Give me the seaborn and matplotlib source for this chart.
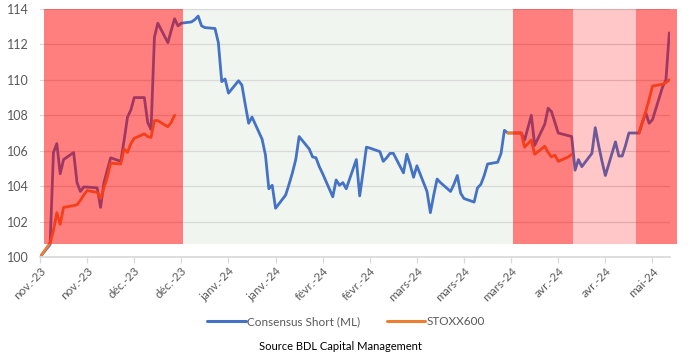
import numpy as np
import pandas as pd
import seaborn as sns
import matplotlib.pyplot as plt

sns.set_theme(style='white')
plt.rcParams['font.family'] = ['Lato', 'DejaVu Sans']

# ============================================================
# Données
# ============================================================
blue_dates = ['2023-11-10', '2023-11-13', '2023-11-14', '2023-11-15', '2023-11-16', '2023-11-17',
              '2023-11-20', '2023-11-21', '2023-11-22', '2023-11-23', '2023-11-24', '2023-11-27',
              '2023-11-28', '2023-11-29', '2023-11-30', '2023-12-01', '2023-12-04', '2023-12-05',
              '2023-12-06', '2023-12-07', '2023-12-08', '2023-12-11', '2023-12-12', '2023-12-13',
              '2023-12-14', '2023-12-15', '2023-12-18', '2023-12-19', '2023-12-20', '2023-12-21',
              '2023-12-22', '2023-12-25', '2023-12-26', '2023-12-27', '2023-12-28', '2023-12-29',
              '2024-01-01', '2024-01-02', '2024-01-03', '2024-01-04', '2024-01-05', '2024-01-08',
              '2024-01-09', '2024-01-10', '2024-01-11', '2024-01-12', '2024-01-15', '2024-01-16',
              '2024-01-17', '2024-01-18', '2024-01-19', '2024-01-22', '2024-01-23', '2024-01-24',
              '2024-01-25', '2024-01-26', '2024-01-29', '2024-01-30', '2024-01-31', '2024-02-01',
              '2024-02-02', '2024-02-05', '2024-02-06', '2024-02-07', '2024-02-08', '2024-02-09',
              '2024-02-12', '2024-02-13', '2024-02-14', '2024-02-15', '2024-02-16', '2024-02-19',
              '2024-02-20', '2024-02-21', '2024-02-22', '2024-02-23', '2024-02-26', '2024-02-27',
              '2024-02-28', '2024-02-29', '2024-03-01', '2024-03-04', '2024-03-05', '2024-03-06',
              '2024-03-07', '2024-03-08', '2024-03-11', '2024-03-12', '2024-03-13', '2024-03-14',
              '2024-03-15', '2024-03-18', '2024-03-19', '2024-03-20', '2024-03-21', '2024-03-22',
              '2024-03-25', '2024-03-26', '2024-03-27', '2024-03-28', '2024-03-29', '2024-04-01',
              '2024-04-02', '2024-04-03', '2024-04-04', '2024-04-05', '2024-04-08', '2024-04-09',
              '2024-04-10', '2024-04-11', '2024-04-12', '2024-04-15', '2024-04-16', '2024-04-17',
              '2024-04-18', '2024-04-19', '2024-04-22', '2024-04-23', '2024-04-24', '2024-04-25',
              '2024-04-26', '2024-04-29', '2024-04-30', '2024-05-01', '2024-05-02', '2024-05-03',
              '2024-05-06', '2024-05-07', '2024-05-08', '2024-05-09', '2024-05-10', '2024-05-13',
              '2024-05-14', '2024-05-15']
blue_vals = [100.0, 100.7, 105.9, 106.4, 104.7, 105.5,
             105.9, 104.2, 103.7, 103.95, 103.95, 103.9,
             102.8, 104.2, 104.9, 105.6, 105.4, 106.6,
             107.9, 108.3, 109.0, 109.0, 107.6, 107.2,
             112.4, 113.2, 112.1, 112.8, 113.45, 113.05,
             113.2, 113.27, 113.4, 113.6, 113.05, 112.95,
             112.9, 112.1, 109.9, 110.05, 109.25, 109.95,
             109.7, 108.6, 107.55, 107.9, 106.65, 105.75,
             103.85, 104.05, 102.75, 103.5, 104.1, 104.75,
             105.5, 106.8, 106.1, 105.65, 105.6, 105.1,
             104.7, 103.4, 104.35, 104.05, 104.2, 103.85,
             105.5, 103.45, 104.8, 106.2, 106.15, 105.95,
             105.4, 105.6, 105.85, 105.85, 104.75, 105.8,
             105.2, 104.5, 105.15, 103.7, 102.5, 103.5,
             104.4, 104.2, 103.7, 104.1, 104.6, 103.6,
             103.3, 103.1, 103.9, 104.1, 104.6, 105.25,
             105.35, 105.85, 107.15, 107.0, 107.0, 107.0,
             106.6, 107.3, 108.0, 106.3, 107.5, 108.4,
             108.2, 107.6, 107.0, 106.85, 106.8, 104.9,
             105.5, 105.1, 105.85, 107.3, 106.3, 105.4,
             104.6, 106.5, 105.7, 105.7, 106.3, 107.0,
             107.0, 107.6, 108.15, 107.55, 107.75, 109.6,
             110.0, 112.65]

stoxx_dates_1 = ['2023-11-10', '2023-11-13', '2023-11-14', '2023-11-15', '2023-11-16', '2023-11-17',
                 '2023-11-20', '2023-11-21', '2023-11-22', '2023-11-23', '2023-11-24', '2023-11-27',
                 '2023-11-28', '2023-11-29', '2023-11-30', '2023-12-01', '2023-12-04', '2023-12-05',
                 '2023-12-06', '2023-12-07', '2023-12-08', '2023-12-11', '2023-12-12', '2023-12-13',
                 '2023-12-14', '2023-12-15', '2023-12-18', '2023-12-19', '2023-12-20']
stoxx_vals_1 = [100.0, 100.8, 101.5, 102.5, 101.85, 102.8,
                102.9, 102.95, 103.2, 103.5, 103.75, 103.65,
                103.3, 103.9, 104.5, 105.3, 105.25, 106.1,
                105.9, 106.4, 106.7, 106.95, 106.8, 106.75,
                107.7, 107.7, 107.35, 107.6, 108.0]
stoxx_dates_2 = ['2024-03-28', '2024-03-29', '2024-04-01', '2024-04-02', '2024-04-03', '2024-04-04',
                 '2024-04-05', '2024-04-08', '2024-04-09', '2024-04-10', '2024-04-11', '2024-04-12',
                 '2024-04-15', '2024-04-16']
stoxx_vals_2 = [107.0, 107.0, 107.0, 106.2, 106.4, 106.6,
                105.8, 106.25, 105.9, 105.65, 105.75, 105.4,
                105.65, 105.8]
stoxx_dates_3 = ['2024-05-06', '2024-05-07', '2024-05-08', '2024-05-09', '2024-05-10', '2024-05-13',
                 '2024-05-14', '2024-05-15']
stoxx_vals_3 = [107.0, 107.6, 108.2, 108.9, 109.65, 109.75, 109.85, 110.0]

# périodes (début, fin, type)
regime_start = ['2023-11-11 08:00', '2023-12-22 10:00', '2024-03-29 14:00', '2024-04-16 12:00', '2024-05-05 00:00']
regime_end = ['2023-12-22 10:00', '2024-03-29 14:00', '2024-04-16 12:00', '2024-05-05 00:00', '2024-05-17 10:00']
regime_type = ['short', 'neutre', 'short', 'partiel', 'short']

tick_labels = ['nov.-23', 'nov.-23', 'déc.-23', 'déc.-23', 'janv.-24', 'janv.-24', 'févr.-24',
               'févr.-24', 'mars-24', 'mars-24', 'mars-24', 'avr.-24', 'avr.-24', 'mai-24']
tick_dates = pd.date_range('2023-11-10', periods=len(tick_labels), freq='14D')

# ============================================================
# Mise en forme des données
# ============================================================
frames = [pd.DataFrame({'date': pd.to_datetime(blue_dates), 'valeur': blue_vals,
                        'serie': 'Consensus Short (ML)', 'seg': 0})]
for i, (d, v) in enumerate([(stoxx_dates_1, stoxx_vals_1), (stoxx_dates_2, stoxx_vals_2),
                            (stoxx_dates_3, stoxx_vals_3)]):
    frames.append(pd.DataFrame({'date': pd.to_datetime(d), 'valeur': v,
                                'serie': 'STOXX600', 'seg': i + 1}))
df = pd.concat(frames, ignore_index=True)

palette = {'Consensus Short (ML)': '#4472C4', 'STOXX600': '#ED7D31'}

# ============================================================
# Graphique
# ============================================================
fig = plt.figure(figsize=(6.97, 3.57), dpi=100)
ax = fig.add_axes([40 / 697, 1 - 257 / 357, 630 / 697, 248 / 357])

sns.lineplot(data=df, x='date', y='valeur', hue='serie', units='seg', estimator=None,
             sort=False, palette=palette, linewidth=2.0, ax=ax, zorder=2)

base = 100.75
span_style = {'short': dict(color='#FF0000', alpha=0.5, zorder=3),
              'partiel': dict(color='#FF0000', alpha=0.22, zorder=3),
              'neutre': dict(color='#F1F5EF', alpha=1.0, zorder=0.4)}
for s, e, t in zip(regime_start, regime_end, regime_type):
    ax.axvspan(pd.Timestamp(s), pd.Timestamp(e), ymin=(base - 100) / 14, ymax=1,
               lw=0, clip_on=False, **span_style[t])

ax.set_ylim(100, 114)
ax.set_xlim(pd.Timestamp('2023-11-10'), pd.Timestamp('2024-05-15 05:00'))
ax.set_yticks(np.arange(100, 115, 2))
ax.set_xticks(tick_dates)
ax.set_xticklabels(tick_labels, rotation=45, ha='right', rotation_mode='anchor')

ax.set_axisbelow(True)
ax.grid(True, axis='y', color='#D9D9D9', linewidth=0.9, zorder=0.5)
ax.grid(False, axis='x')
for side in ['top', 'right', 'left']:
    ax.spines[side].set_visible(False)
ax.spines['bottom'].set_color('#D9D9D9')
ax.tick_params(axis='x', colors='#595959', labelsize=8.5, length=4, width=0.9,
               direction='out', bottom=True, pad=2)
ax.tick_params(axis='x', color='#D9D9D9')
ax.tick_params(axis='y', colors='#595959', labelsize=9, length=0, pad=8)
ax.set_xlabel('')
ax.set_ylabel('')

sns.move_legend(ax, 'center', bbox_to_anchor=(0.486, -0.262), ncol=2, frameon=False,
                title=None, fontsize=8.5, handlelength=3.3, columnspacing=2.2, handletextpad=0.1)
for line in ax.get_legend().get_lines():
    line.set_linewidth(2.2)
for txt in ax.get_legend().get_texts():
    txt.set_color('#595959')

fig.text(0.489, 1 - 347 / 357, 'Source BDL Capital Management', ha='center', va='center',
         fontsize=8, color='black')

plt.savefig('out.png', dpi=100)
